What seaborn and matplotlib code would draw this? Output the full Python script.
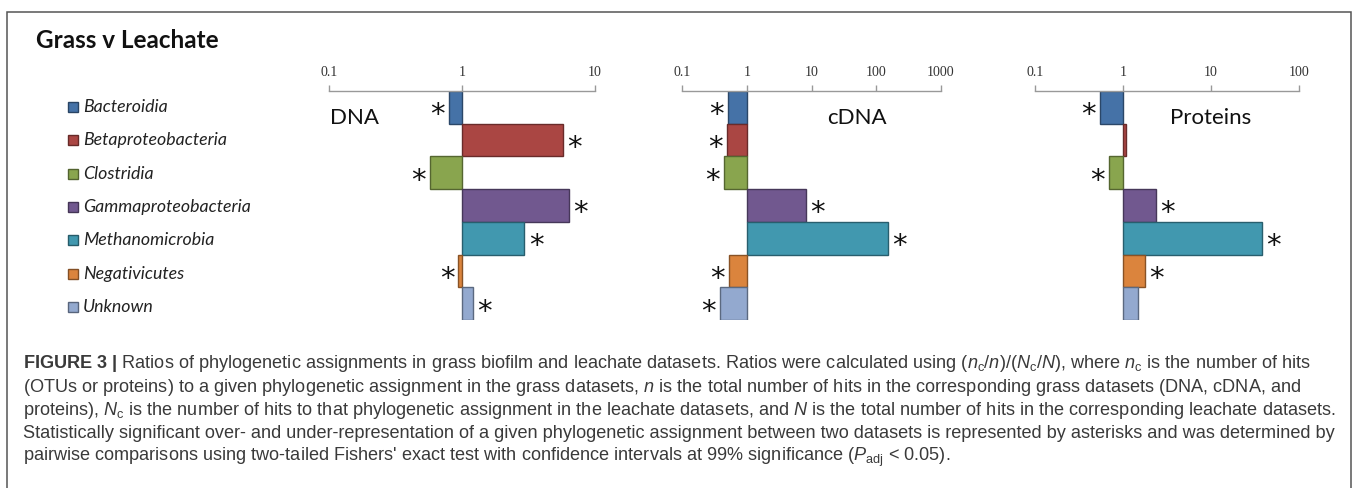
import numpy as np
import pandas as pd
import matplotlib
matplotlib.use("Agg")
import matplotlib.pyplot as plt
import matplotlib.colors as mcolors
from matplotlib.patches import Rectangle
import seaborn as sns

# ---------------- data ----------------
categories = ["Bacteroidia", "Betaproteobacteria", "Clostridia",
              "Gammaproteobacteria", "Methanomicrobia", "Negativicutes", "Unknown"]
colors = ["#4572A7", "#AA4643", "#89A54E", "#71588F", "#4198AF", "#DB843D", "#93A9CF"]

dna_ratio = [0.80, 5.7, 0.57, 6.4, 2.95, 0.94, 1.2]
cdna_ratio = [0.52, 0.49, 0.44, 8.2, 150.0, 0.53, 0.39]
protein_ratio = [0.55, 1.07, 0.70, 2.37, 38.0, 1.76, 1.49]

dna_sig = [True, True, True, True, True, True, True]
cdna_sig = [True, True, True, True, True, True, True]
protein_sig = [True, False, True, True, True, True, False]

panel_names = ["DNA", "cDNA", "Proteins"]
dna_ticks = ["0.1", "1", "10"]
cdna_ticks = ["0.1", "1", "10", "100", "1000"]
protein_ticks = ["0.1", "1", "10", "100"]

title = "Grass v Leachate"
caption_lines = [
    r"$\mathbf{FIGURE\ 3\ |}$ Ratios of phylogenetic assignments in grass biofilm and leachate datasets. Ratios were calculated using $(n_\mathrm{c}/n)/(N_\mathrm{c}/N)$, where $n_\mathrm{c}$ is the number of hits",
    r"(OTUs or proteins) to a given phylogenetic assignment in the grass datasets, $n$ is the total number of hits in the corresponding grass datasets (DNA, cDNA, and",
    r"proteins), $N_\mathrm{c}$ is the number of hits to that phylogenetic assignment in the leachate datasets, and $N$ is the total number of hits in the corresponding leachate datasets.",
    r"Statistically significant over- and under-representation of a given phylogenetic assignment between two datasets is represented by asterisks and was determined by",
    r"pairwise comparisons using two-tailed Fishers' exact test with confidence intervals at 99% significance ($P_\mathrm{adj}$ < 0.05).",
]

# ---------------- style ----------------
sns.set_theme(style="white")
plt.rcParams["font.family"] = ["Lato", "DejaVu Sans"]
plt.rcParams["mathtext.fontset"] = "custom"
plt.rcParams["mathtext.rm"] = "Liberation Sans"
plt.rcParams["mathtext.it"] = "Liberation Sans:italic"
plt.rcParams["mathtext.bf"] = "Liberation Sans:bold"

W, H = 1358, 488
fig = plt.figure(figsize=(W / 100, H / 100), dpi=100)
fig.patch.set_facecolor("white")

def fx(x):
    return x / W

def fy(y):
    return 1 - y / H

# outer frame
fig.patches.append(Rectangle((fx(7), fy(500)), fx(1351) - fx(7), fy(12) - fy(500),
                             transform=fig.transFigure, fill=False,
                             edgecolor="#555555", linewidth=1.1))

fig.text(fx(36), fy(40), title, fontsize=17.5, fontweight="bold",
         color="#111111", ha="left", va="center", family=["Lato", "DejaVu Sans"])

# legend (manual, left side)
for i, (cat, col) in enumerate(zip(categories, colors)):
    yc = 107 + 33.3 * i
    edge = tuple(np.array(mcolors.to_rgb(col)) * 0.6)
    fig.patches.append(Rectangle((fx(68), fy(yc + 5)), fx(10), 10 / H,
                                 transform=fig.transFigure, facecolor=col,
                                 edgecolor=edge, linewidth=1.0))
    fig.text(fx(83), fy(yc), cat, fontsize=12.8, fontstyle="italic",
             color="#222222", ha="left", va="center",
             family=["Lato", "DejaVu Sans"])

panels = [
    (dna_ratio, dna_sig, dna_ticks, 329, 595, 355),
    (cdna_ratio, cdna_sig, cdna_ticks, 682, 941, 857),
    (protein_ratio, protein_sig, protein_ticks, 1035, 1299, 1211),
]

top_px, bot_px = 91, 320
for (ratio, sig, ticks, x0, x1, lab_x), name in zip(panels, panel_names):
    ax = fig.add_axes([fx(x0), fy(bot_px), fx(x1) - fx(x0), fy(top_px) - fy(bot_px)])
    df = pd.DataFrame({"category": categories,
                       "ratio": ratio,
                       "log_ratio": np.log10(ratio)})
    sns.barplot(data=df, x="log_ratio", y="category", hue="category",
                palette=colors, order=categories, hue_order=categories,
                orient="h", width=1.0, legend=False, ax=ax, linewidth=1.0,
                saturation=1.0)
    for patch, col in zip(ax.patches, colors):
        patch.set_edgecolor(tuple(np.array(mcolors.to_rgb(col)) * 0.62))
    n_dec = len(ticks)
    ax.set_xlim(-1, n_dec - 2)
    ax.set_ylim(len(categories) - 0.5, -0.5)
    ax.set_xticks(np.arange(-1, n_dec - 1))
    ax.set_xticklabels(ticks, family=["Liberation Serif", "DejaVu Serif"],
                       fontsize=10, color="#333333")
    ax.xaxis.tick_top()
    ax.tick_params(axis="x", direction="out", length=4, width=1,
                   color="#999999", pad=5, top=True, bottom=False)
    ax.set_yticks([])
    ax.set_xlabel("")
    ax.set_ylabel("")
    for s in ["left", "right", "bottom"]:
        ax.spines[s].set_visible(False)
    ax.spines["top"].set_color("#999999")
    ax.spines["top"].set_linewidth(1.0)
    ax.set_facecolor("none")
    ax.patch.set_alpha(0)

    for i, (lv, s) in enumerate(zip(df["log_ratio"], sig)):
        if not s:
            continue
        if lv >= 0:
            ax.annotate("*", xy=(lv, i), xytext=(3, -11.5), textcoords="offset points",
                        ha="left", va="baseline", fontsize=21, color="#111111",
                        family="DejaVu Sans")
        else:
            ax.annotate("*", xy=(lv, i), xytext=(-3, -11.5), textcoords="offset points",
                        ha="right", va="baseline", fontsize=21, color="#111111",
                        family="DejaVu Sans")

    fig.text(fx(lab_x), fy(118), name, fontsize=16, color="#111111",
             ha="center", va="center", family=["Lato", "DejaVu Sans"])

# caption
cap_texts = []
for k, line in enumerate(caption_lines):
    t = fig.text(fx(23), fy(364 + 23.3 * k), line, fontsize=10.5,
                 color="#3a3a3a", ha="left", va="center",
                 family=["Liberation Sans", "DejaVu Sans"])
    cap_texts.append(t)

# fit caption size so the third line ends near the right frame
fig.canvas.draw()
r = fig.canvas.get_renderer()
bb = cap_texts[2].get_window_extent(renderer=r)
target = 1346 - 23
scale = target / bb.width
for t in cap_texts:
    t.set_fontsize(10.5 * scale)

fig.savefig("out.png", dpi=100, facecolor="white")
